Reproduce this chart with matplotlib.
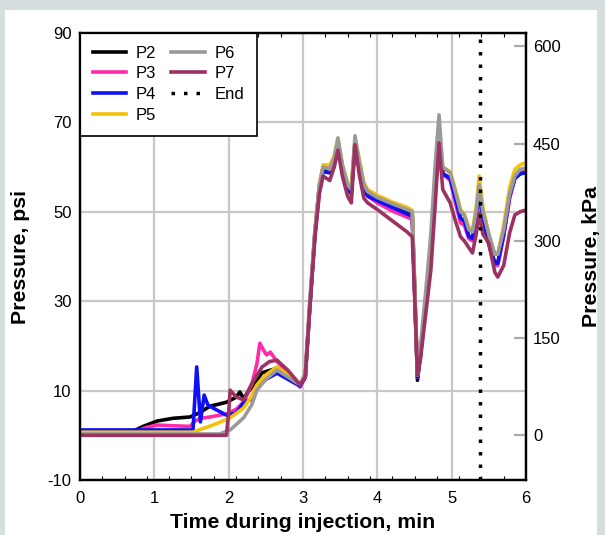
import numpy as np
import matplotlib
matplotlib.use('Agg')
import matplotlib.pyplot as plt
from matplotlib.patches import Rectangle
from matplotlib.ticker import MultipleLocator

plt.rcParams['font.family'] = ['Liberation Sans', 'DejaVu Sans']
plt.rcParams['axes.unicode_minus'] = False

# early part of each record (min, psi)
t_p2 = [0, 0.70, 0.85, 1.04, 1.25, 1.48, 1.60, 1.75, 1.97, 2.10, 2.15, 2.20, 2.30, 2.45, 2.65, 2.96]
p_p2 = [0.8, 0.8, 2.0, 3.2, 3.8, 4.1, 5.0, 6.5, 7.4, 8.5, 9.7, 8.3, 10.5, 14.0, 15.0, 11.3]
t_p3 = [0, 0.75, 0.90, 1.04, 1.30, 1.48, 1.55, 1.62, 1.75, 1.97, 2.10, 2.20, 2.31, 2.38, 2.42,
        2.47, 2.51, 2.56, 2.65, 2.80, 2.96]
p_p3 = [0.9, 0.9, 1.8, 2.3, 2.1, 2.0, 3.2, 3.8, 4.1, 4.8, 5.8, 7.4, 11.3, 16.0, 20.6,
        19.0, 18.0, 18.6, 16.5, 14.0, 10.8]
t_p4 = [0, 1.52, 1.57, 1.62, 1.67, 1.72, 1.79, 1.97, 2.10, 2.15, 2.20, 2.30, 2.38, 2.50, 2.65, 2.80, 2.96]
p_p4 = [1.2, 1.2, 15.3, 3.0, 9.0, 6.8, 6.1, 4.5, 5.0, 6.1, 7.4, 8.0, 10.8, 12.5, 13.9, 12.5, 11.0]
t_p5 = [0, 1.52, 1.65, 1.79, 2.02, 2.20, 2.30, 2.38, 2.50, 2.65, 2.80, 2.96]
p_p5 = [0.7, 0.7, 1.5, 2.3, 3.9, 6.1, 8.5, 11.3, 13.5, 15.3, 13.5, 11.6]
t_p6 = [0, 1.88, 2.02, 2.20, 2.31, 2.38, 2.50, 2.65, 2.80, 2.96]
p_p6 = [0.3, 0.3, 1.2, 3.9, 6.8, 10.1, 12.5, 14.6, 13.0, 11.3]
t_p7 = [0, 1.97, 2.00, 2.02, 2.10, 2.20, 2.31, 2.45, 2.55, 2.65, 2.80, 2.96]
p_p7 = [0, 0, 5.0, 10.1, 8.6, 7.9, 11.5, 15.3, 16.5, 16.8, 14.5, 11.3]

# late part, shared time axis
t_late = [3.03, 3.09, 3.16, 3.22, 3.27, 3.36, 3.42, 3.47, 3.53, 3.60, 3.65, 3.70, 3.76, 3.82, 3.87,
          4.00, 4.20, 4.40, 4.47, 4.50, 4.54, 4.58, 4.65, 4.72, 4.78, 4.83, 4.88, 4.98, 5.05, 5.12,
          5.17, 5.23, 5.28, 5.33, 5.37, 5.42, 5.50, 5.58, 5.62, 5.70, 5.78, 5.85, 5.92, 6.00]
late_p2 = [13, 28.5, 45, 55.5, 59.5, 59.5, 61.5, 65.5, 60, 55.5, 54.5, 65.5, 60.5, 55.5, 54,
           52.8, 51.3, 49.8, 49.3, 33, 12.3, 18, 29, 42, 56, 67, 58.5, 57.5, 53, 48.5,
           48, 44.5, 44, 49, 55, 48.5, 43, 38.5, 38.5, 45, 53.5, 57.5, 58.5, 58.8]
late_p3 = [13, 28.5, 45.5, 56, 60, 60, 61.5, 65.5, 60, 55.5, 54.5, 65.5, 60, 55, 53.5,
           52, 50.2, 48.8, 48.3, 33.5, 13, 18, 29, 42, 57, 68, 58.5, 57, 52, 47.5,
           47, 44, 43.5, 48, 54, 47.5, 42.5, 38, 38, 44.5, 53, 57.5, 58.8, 59.2]
late_p4 = [13, 28.5, 45, 55, 59, 58.7, 61, 65, 59.5, 55, 54, 65.5, 60, 55, 53.5,
           52.5, 51, 49.5, 49, 34, 13, 18, 29, 42, 56, 67.5, 58.5, 57.5, 53, 48.5,
           48, 44.5, 44, 49, 55, 48.5, 43, 38.5, 38.5, 45, 53.5, 57.5, 58.5, 58.8]
late_p5 = [13.5, 29, 45.5, 56, 60.5, 60.5, 62.5, 66.5, 60.5, 56.5, 55.5, 66.5, 61.5, 56.5, 55,
           53.7, 52.2, 51, 50.3, 35, 13.5, 19, 30, 43, 58, 68, 60, 59, 55, 50.5,
           49.5, 46.5, 46, 51, 58, 51, 45, 40.5, 40.5, 47, 55.5, 59.5, 60.5, 61]
late_p6 = [14, 30, 46, 56, 60, 59.5, 62, 66.5, 60.5, 56, 55, 67, 61, 56, 54.5,
           53.2, 51.8, 50.5, 50, 35, 13.5, 20, 32, 45, 61, 71.7, 60, 58.7, 54.5, 50,
           49.3, 46, 45.5, 50, 56, 50, 45, 40.5, 40.5, 46, 54, 58, 59.5, 59.8]
late_p7 = [13, 28, 44, 54, 58, 57, 60, 63.8, 58, 53.5, 52, 65, 58, 53, 52,
           50.5, 48, 45.5, 44.4, 32, 13.5, 17, 27, 37, 52, 65.4, 55, 52, 48, 44.4,
           43.5, 42, 40.8, 45, 49.7, 45, 43, 36.5, 35.4, 38, 45.3, 49.3, 50, 50.4]

names = ['P2', 'P3', 'P4', 'P5', 'P6', 'P7']
colors = ['#000000', '#ff2aaa', '#1010f5', '#f5c20a', '#9a9a9a', '#9b3262']
end_time = 5.38
psi_to_kpa = 6.895

early = [(t_p2, p_p2), (t_p3, p_p3), (t_p4, p_p4), (t_p5, p_p5), (t_p6, p_p6), (t_p7, p_p7)]
late = [late_p2, late_p3, late_p4, late_p5, late_p6, late_p7]

fig = plt.figure(figsize=(6.05, 5.35), dpi=100, facecolor='#d5dfdf')
fig.add_artist(Rectangle((5 / 605, 0), 592 / 605, 525 / 535, transform=fig.transFigure,
                         facecolor='white', edgecolor='none', zorder=-5))
ax = fig.add_axes([80 / 605, 55 / 535, 446 / 605, 447 / 535])

for (t, p), pl, name, c in zip(early, late, names, colors):
    ax.plot(list(t) + t_late, list(p) + pl, color=c, lw=2.6, label=name, solid_joinstyle='round')
ax.axvline(end_time, color='black', lw=2.5, ls=(0, (1, 2.6)), label='End')

ax.set_xlim(0, 6)
ax.set_ylim(-10, 90)
ax.set_xticks(range(7))
ax.set_yticks([-10, 10, 30, 50, 70, 90])
ax.xaxis.set_minor_locator(MultipleLocator(0.3))
ax.grid(True, color='#c8c8c8', lw=1.6)
ax.set_axisbelow(True)
ax.tick_params(axis='both', which='major', length=0, labelsize=12, pad=6)
ax.tick_params(axis='x', which='major', pad=8)
ax.tick_params(axis='x', which='minor', direction='in', top=True, bottom=True, length=3, width=0.8)
for s in ax.spines.values():
    s.set_linewidth(1.6)

ax.set_xlabel('Time during injection, min', fontsize=15.3, fontweight='bold')
ax.xaxis.set_label_coords(0.5, -0.073)
ax.set_ylabel('Pressure, psi', fontsize=15.3, fontweight='bold')
ax.yaxis.set_label_coords(-0.112, 0.5)

ax2 = ax.twinx()
ax2.set_ylim(-10 * psi_to_kpa, 90 * psi_to_kpa)
ax2.set_yticks([0, 150, 300, 450, 600])
ax2.tick_params(axis='y', direction='in', length=9, width=1.6, color='#aaaaaa', labelsize=12, pad=5)
for s in ax2.spines.values():
    s.set_linewidth(1.6)
ax2.set_ylabel('Pressure, kPa', fontsize=15.3, fontweight='bold')
ax2.yaxis.set_label_coords(1.125, 0.5)

leg = ax.legend(loc='upper left', bbox_to_anchor=(0, 1), borderaxespad=0, ncol=2,
                fontsize=12, handlelength=2.0, handletextpad=0.6, columnspacing=0.9,
                labelspacing=0.35, borderpad=0.75, fancybox=False, framealpha=1,
                edgecolor='black')
leg.get_frame().set_linewidth(1.2)

fig.savefig('out.png', dpi=100, facecolor=fig.get_facecolor())
